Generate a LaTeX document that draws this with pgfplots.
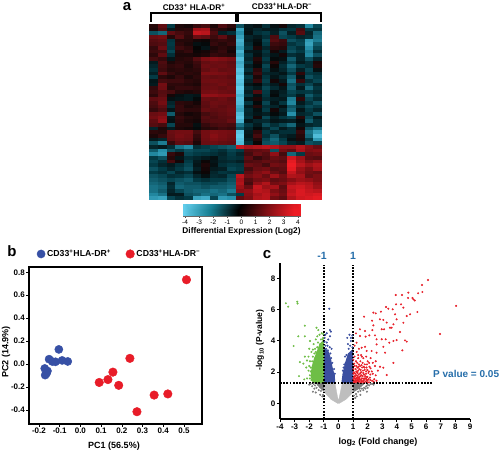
\documentclass[border=0pt]{standalone}
\usepackage{fontspec}
\setmainfont{Liberation Sans}
\usepackage{pgfplots}
\usepackage{pgfplotstable}
\pgfplotsset{compat=1.18}
\definecolor{vblue}{RGB}{59,79,160}
\definecolor{vgreen}{RGB}{110,190,70}
\definecolor{vred}{RGB}{232,32,42}
\definecolor{lgray}{RGB}{190,190,190}
\definecolor{dgray}{RGB}{125,125,125}
\definecolor{sblue}{RGB}{38,110,170}
\definecolor{pblue}{RGB}{55,80,165}
\definecolor{pred}{RGB}{232,28,40}
\pgfplotsset{colormap={hm}{rgb255(0cm)=(98,205,235);rgb255(2cm)=(22,125,145);rgb255(4cm)=(0,0,0);rgb255(6cm)=(125,15,20);rgb255(8cm)=(238,28,36)}}
\pgfplotsset{colormap={hmcells}{rgb255(0cm)=(98,205,235);rgb255(1.5cm)=(35,140,165);rgb255(3cm)=(3,58,68);rgb255(4cm)=(5,5,5);rgb255(5cm)=(85,12,16);rgb255(6cm)=(135,14,20);rgb255(8cm)=(238,28,36)}}
\pgfdeclareplotmark{hcell}{\pgfpathrectangle{\pgfpoint{-4.4pt}{-1.95pt}}{\pgfpoint{8.8pt}{3.9pt}}\pgfusepathqfill}
% heat map, values in tenths of log2, rows from the top
\pgfplotstableread{
c0 c1 c2 c3 c4 c5 c6 c7 c8 c9 c10 c11 c12 c13 c14 c15 c16 c17 c18 c19
4 12 -10 3 2 6 8 3 9 5 -14 -4 -2 -8 -2 2 -6 -8 -24 -12
3 9 -4 4 5 24 26 6 4 2 -30 -3 -6 -4 -4 -8 -9 8 -10 -9
-14 -18 12 8 6 32 30 9 -5 -8 -26 -2 -8 -10 -5 -14 -5 10 -6 -18
14 16 4 10 5 14 12 7 12 5 -30 -6 -4 -8 9 -12 -10 -6 -8 -20
10 12 -9 4 4 2 1 5 6 5 -34 -5 -2 -12 10 7 -14 -11 -28 -22
9 10 -10 5 3 -2 -1 6 4 6 -32 -7 -1 -10 7 6 -9 -12 -30 -16
6 14 -9 7 5 0 -3 3 5 3 -28 -9 3 -6 5 4 -12 -8 -26 -12
7 8 -12 4 6 1 2 4 6 2 -34 -4 -3 -9 2 -4 -14 -10 -22 -8
5 12 -8 3 3 2 3 6 5 4 -30 -8 -2 -7 -3 2 -8 -6 -24 -14
8 6 -3 4 5 10 18 20 18 16 -36 -6 4 -10 -1 -2 -16 -6 -14 -6
-4 9 3 5 4 7 13 15 14 12 -32 -9 2 -7 4 -5 -12 -4 -8 3
-6 8 5 6 3 6 15 14 15 13 -34 -5 -1 -12 1 -8 -18 -10 -8 4
-8 7 4 5 4 5 13 16 13 14 -38 -8 5 -9 -2 -6 -14 -5 -12 -2
-5 12 6 4 5 4 18 18 17 15 -36 -4 7 -6 -5 -3 -10 5 -10 -8
-10 5 3 6 3 5 14 13 14 12 -40 -9 3 -9 -3 -7 -16 -2 -14 -10
-3 8 7 7 5 4 15 16 15 14 -38 -6 6 -11 2 -4 -20 6 -8 -12
-4 16 5 5 4 3 13 14 16 13 -36 -3 -1 -8 -4 2 -14 -8 -12 -6
6 15 4 6 6 5 14 15 13 15 -40 -7 -4 -12 -7 -3 -16 -4 -18 -9
7 10 8 4 3 4 16 17 15 14 -38 -5 9 -10 -2 -5 -12 -9 -10 -7
5 11 2 -2 -4 -3 22 22 20 20 -34 -8 -2 -9 -1 -6 -10 -4 -16 -10
12 14 -2 -3 -4 -1 14 13 15 12 -37 -3 3 -7 -5 -4 -22 5 -12 -7
9 16 -6 5 4 2 12 15 14 13 -36 -9 -1 -12 -3 -9 -24 -4 -9 -14
8 12 -8 6 3 4 11 14 12 14 -32 -4 4 -8 -6 -2 -15 -8 -13 -10
6 9 -3 6 5 5 13 12 13 15 -30 -7 -2 -10 2 -6 -18 -3 -10 -6
14 16 -16 4 2 3 8 10 12 14 -36 -6 -3 -5 -1 -4 -26 -6 -8 -14
16 20 -3 6 4 3 10 9 11 12 -38 -8 2 -12 -5 -9 -12 4 -12 -4
12 22 -2 5 3 2 9 10 10 14 -34 -3 -6 -7 -3 -4 -5 -1 -16 -8
10 8 -12 4 4 -2 6 8 9 8 -20 -9 -4 -13 -8 -12 -18 -3 -6 -8
-6 3 -4 3 2 -1 4 5 7 6 -14 -6 -1 -6 -12 -4 -8 2 -14 -20
5 4 14 16 16 8 16 18 17 16 -38 -4 5 -10 -6 -8 -8 6 -20 -30
3 6 13 17 15 6 16 20 17 15 -40 -3 8 -8 -14 -6 -4 4 -18 -36
-4 -6 12 15 14 5 15 18 16 14 -38 -5 4 -12 -18 -10 -2 3 -10 -28
-14 -22 6 12 10 3 14 15 13 12 -36 -8 1 -14 -16 -12 -6 -4 -14 -12
-6 -4 -8 -20 -24 -8 -10 -12 -14 -16 32 26 28 30 28 22 22 28 20 14
-16 -26 -14 -10 -14 -12 -12 -10 -8 -12 -10 10 12 14 -14 16 12 26 18 20
-24 -28 6 3 -12 -10 -9 -8 -6 -10 -6 8 14 10 22 8 -18 -10 14 16
-10 -14 4 -3 -8 -6 -4 -2 -7 -9 -8 12 6 9 14 12 34 24 12 10
-12 -8 8 2 -10 -4 1 -3 -6 -7 -5 9 10 13 12 10 38 26 18 22
-10 -6 -4 -8 -12 -3 3 -2 -8 -10 -9 14 12 8 16 14 40 30 24 28
-14 -10 -6 -10 -14 -5 2 -4 -5 -12 -10 8 14 16 10 12 38 24 18 26
-10 -8 -12 -6 -8 -2 1 -6 -9 -8 -8 12 18 22 14 10 32 22 16 14
-14 -12 -8 -9 -12 -6 -2 -7 -6 -12 30 16 20 14 24 16 28 26 14 18
-16 -14 -12 -14 -16 -10 -8 -10 -10 -14 26 10 16 18 12 14 20 24 22 18
-18 -16 -6 -16 -14 -14 -12 -12 -14 -16 28 8 22 28 16 18 26 30 28 22
-20 -18 -8 -18 -16 -16 -14 -16 -16 -18 24 14 32 24 26 12 32 34 30 24
-20 -16 -6 -12 -16 -18 -18 -20 -18 -22 20 22 30 28 18 14 30 36 32 30
-24 -20 -4 -4 -14 -16 -20 -18 -20 -14 -10 20 26 30 22 16 32 36 34 36
-28 -30 -12 -8 -10 -30 -32 -12 -28 -26 12 18 28 30 16 12 28 34 36 38
}\heat
\begin{document}
\begin{tikzpicture}[x=1pt,y=1pt]
\path[use as bounding box,fill=white] (0,0) rectangle (500,452);
% ---------- panel a
\begin{axis}[at={(149.5pt,252pt)},anchor=south west,scale only axis,width=172.5pt,height=176pt,
  hide axis,xmin=-0.5,xmax=19.5,ymin=-47.5,ymax=0.5,colormap name=hmcells,point meta min=-40,point meta max=40]
\pgfplotsinvokeforeach{0,...,19}{
  \addplot[scatter,only marks,mark=hcell,point meta=explicit,scatter/use mapped color={draw=none,fill=mapped color}]
    table[x expr=#1,y expr=-\coordindex,meta index=#1]{\heat};
}
\end{axis}
\begin{axis}[at={(183pt,236pt)},anchor=south west,scale only axis,width=117pt,height=11pt,
  xmin=-4.15,xmax=4.15,ymin=0,ymax=1,ytick=\empty,xtick={-4,-3,-2,-1,0,1,2,3,4},
  colormap name=hm,point meta min=-4,point meta max=4,
  axis line style={draw=black!60,line width=0.6pt},xtick pos=bottom,tick align=outside,
  major tick length=2pt,tick style={draw=black!70,line width=0.4pt},
  xticklabel style={font=\fontsize{6.5}{7}\selectfont,inner sep=1pt,yshift=-0.5pt},
  /pgf/number format/assume math mode=true]
\addplot[matrix plot*,shader=interp,mesh/cols=19,point meta=x] coordinates {
(-4.15,0)(-4,0)(-3.5,0)(-3,0)(-2.5,0)(-2,0)(-1.5,0)(-1,0)(-0.5,0)(0,0)(0.5,0)(1,0)(1.5,0)(2,0)(2.5,0)(3,0)(3.5,0)(4,0)(4.15,0)
(-4.15,1)(-4,1)(-3.5,1)(-3,1)(-2.5,1)(-2,1)(-1.5,1)(-1,1)(-0.5,1)(0,1)(0.5,1)(1,1)(1.5,1)(2,1)(2.5,1)(3,1)(3.5,1)(4,1)(4.15,1)};
\end{axis}
\draw[line width=1.2pt] (151,430) -- (151,439) -- (236,439) -- (236,430);
\draw[line width=1.2pt] (238,430) -- (238,439) -- (321,439) -- (321,430);
\node[font=\bfseries\fontsize{8.2}{9}\selectfont] at (194,444.5) {CD33\textsuperscript{+} HLA-DR\textsuperscript{+}};
\node[font=\bfseries\fontsize{8.2}{9}\selectfont] at (282,445.5) {CD33\textsuperscript{+}HLA-DR\textsuperscript{−}};
\node[font=\bfseries\fontsize{15}{16}\selectfont] at (127,445) {a};
\node[font=\bfseries\fontsize{8.3}{9}\selectfont] at (241.5,221) {Differential Expression (Log2)};
% ---------- panel b
\begin{axis}[at={(29pt,28pt)},anchor=south west,scale only axis,width=173pt,height=157pt,
  xmin=-0.248,xmax=0.587,ymin=-0.522,ymax=0.846,
  xtick={-0.2,-0.1,0,0.1,0.2,0.3,0.4,0.5},ytick={-0.4,-0.2,0,0.2,0.4,0.6,0.8},
  /pgf/number format/assume math mode=true,/pgf/number format/fixed,/pgf/number format/fixed zerofill,/pgf/number format/precision=1,
  axis line style={line width=1.4pt},tick align=outside,major tick length=2.5pt,tick style={black,line width=0.6pt},
  xtick pos=bottom,ytick pos=left,
  tick label style={font=\bfseries\fontsize{8}{9}\selectfont,inner sep=1.5pt},
  legend style={draw=none,fill=none,at={(0.045,1.083)},anchor=west,legend columns=2,inner sep=0pt,
    font=\bfseries\fontsize{8.7}{10}\selectfont,/tikz/every even column/.append style={column sep=13pt}},
  legend cell align=left]
\addplot[only marks,mark=*,mark size=4.1pt,color=pblue,mark options={draw=pblue,fill=pblue}] coordinates {
(-0.104,0.128)(-0.151,0.043)(-0.12,0.02)(-0.135,0.022)(-0.088,0.032)(-0.061,0.023)(-0.172,-0.038)(-0.159,-0.06)(-0.17,-0.096)(-0.163,-0.08)};
\addlegendentry{CD33\textsuperscript{+}HLA-DR\textsuperscript{+}}
\addplot[only marks,mark=*,mark size=4.3pt,color=pred,mark options={draw=pred,fill=pred}] coordinates {
(0.512,0.735)(0.239,0.05)(0.157,-0.07)(0.133,-0.135)(0.091,-0.16)(0.185,-0.185)(0.356,-0.27)(0.422,-0.26)(0.273,-0.415)};
\addlegendentry{CD33\textsuperscript{+}HLA-DR\textsuperscript{−}}
\end{axis}
\node[font=\bfseries\fontsize{9}{10}\selectfont] at (114,6) {PC1 (56.5\%)};
\node[font=\bfseries\fontsize{9}{10}\selectfont,rotate=90] at (6,100) {PC2 (14.9\%)};
\node[font=\bfseries\fontsize{15}{16}\selectfont] at (12,201) {b};
% ---------- panel c
\begin{axis}[at={(280pt,33pt)},anchor=south west,scale only axis,width=190pt,height=156pt,
  xmin=-4,xmax=9,ymin=-1,ymax=9,clip=false,axis x line*=bottom,axis y line*=left,
  xtick={-4,-3,-2,-1,0,1,2,3,4,5,6,7,8,9},ytick={0,2,4,6,8},
  axis line style={line width=1.3pt,-},tick align=outside,major tick length=3pt,tick style={black,line width=1pt},
  tick label style={font=\bfseries\fontsize{8}{9}\selectfont,inner sep=1.5pt},
  /pgf/number format/assume math mode=true]
% light gray cloud (dense body of the plot)
\addplot[fill=lgray,draw=lgray,line width=0.3pt] coordinates {(-0.05,0)(-0.5,0.25)(-1,0.75)(-1,1.3)(-0.24,1.3)(-0.08,0.5)(0,0.15)(0.08,0.5)(0.26,1.3)(1,1.3)(1,0.7)(0.5,0.25)(0.05,0)} --cycle;
% dark gray dense parts and scattered points
\addplot[fill=dgray,draw=none] coordinates {(-1,0.75)(-1,1.3)(-1.55,1.3)(-1.3,1)} --cycle;
\addplot[fill=dgray,draw=none] coordinates {(1,0.7)(1,1.3)(1.85,1.3)(1.35,0.9)} --cycle;
\addplot[only marks,mark=*,mark size=0.8pt,color=dgray] coordinates {
(-1.05,0.55)(-1.2,0.8)(-1.35,0.85)(-1.5,1.0)(-1.6,1.15)(-1.7,1.25)(-1.8,1.1)(-1.4,1.2)(-1.9,1.25)(-1.65,0.95)(-1.75,0.75)(-1.55,0.7)(-1.25,0.55)(-2.0,1.2)(-1.1,0.45)
(1.05,0.5)(1.2,0.6)(1.35,0.75)(1.5,0.8)(1.6,0.95)(1.75,1.0)(1.9,1.1)(2.0,1.2)(2.1,1.15)(2.2,1.25)(1.45,0.95)(1.7,0.85)(1.85,0.95)(2.0,1.0)(2.3,1.25)(2.4,1.2)(1.25,0.45)(1.5,0.55)(1.95,0.75)(1.15,0.35)};
% blue
\addplot[fill=vblue,draw=none] coordinates {(-1,1.3)(-0.22,1.3)(-0.25,1.8)(-0.4,2.3)(-0.5,2.8)(-0.65,3.3)(-1,3.6)} --cycle;
\addplot[fill=vblue,draw=none] coordinates {(0.2,1.3)(1,1.3)(1,3.5)(0.65,3.2)(0.45,2.6)(0.28,1.9)} --cycle;
\addplot[only marks,mark=*,mark size=0.8pt,color=vblue] coordinates {
(-0.63,6.07)(-0.58,4.7)(-0.52,4.6)(-0.58,4.3)(-0.8,4.5)(-0.9,4.4)(-0.95,4.2)(-0.8,3.9)(-0.7,4.1)(-0.47,3.5)(-0.6,3.6)(-0.55,3.2)(-0.65,3.0)(-0.5,2.9)(-0.42,2.6)(-0.72,3.4)(-0.9,3.7)(-0.85,3.5)(-0.3,2.2)(-0.25,1.9)(-0.95,3.95)(-0.75,3.7)
(0.95,4.35)(0.75,4.4)(0.85,4.0)(0.6,4.2)(0.7,3.5)(0.45,3.0)(0.55,3.1)(0.9,3.3)(0.8,3.7)(0.65,3.0)(0.95,3.6)(0.75,3.1)(0.4,2.5)(0.5,2.6)(0.3,2.1)(0.9,3.05)(0.6,2.75)(0.85,4.2)(0.65,3.8)(0.35,2.3)};
% green
\addplot[fill=vgreen,draw=none] coordinates {(-1,1.3)(-1.75,1.3)(-1.9,1.7)(-1.85,2.3)(-1.7,2.8)(-1.5,3.3)(-1.3,3.8)(-1,4.1)} --cycle;
\addplot[only marks,mark=*,mark size=0.8pt,color=vgreen] coordinates {
(-3.6,6.42)(-3.44,6.2)(-2.82,6.52)(-2.8,6.4)(-1.5,4.85)(-1.38,4.7)(-1.05,4.45)(-1.15,4.5)(-1.3,4.4)(-1.45,4.3)(-1.55,4.1)(-1.7,3.8)(-1.95,4.0)(-2.3,4.3)(-2.75,4.3)(-3.07,3.68)(-2.64,2.65)(-2.7,1.75)(-2.34,1.54)(-1.95,1.6)
(-1.85,1.5)(-1.95,1.8)(-2.05,2.1)(-2.15,1.6)(-1.9,2.3)(-1.95,2.7)(-2.15,2.75)(-2.3,3.0)(-1.75,3.0)(-1.85,3.3)(-2.0,3.5)(-1.6,3.5)(-1.4,3.9)(-1.25,3.8)(-1.2,4.1)(-1.1,4.1)(-1.65,3.2)(-1.55,3.3)(-1.45,3.6)(-1.35,3.5)(-2.0,2.4)(-2.2,2.3)(-1.8,2.7)(-2.05,3.0)(-1.6,2.9)(-1.5,3.2)(-1.9,2.05)(-2.4,2.55)(-1.75,3.45)(-1.05,4.2)(-1.25,3.55)(-2.3,4.98)};
% red
\addplot[only marks,mark=*,mark size=0.8pt,color=vred] coordinates {
(6.13,7.91)(5.72,7.59)(5.74,7.14)(5.45,7.06)(4.78,7.10)(4.35,6.95)(3.92,6.95)(4.76,6.76)(5.06,6.76)(5.22,6.6)(5.13,6.67)(8.05,6.25)(6.95,4.45)(4.28,6.35)(3.94,6.35)(3.25,6.18)(3.41,6.07)(3.71,6.03)(4.44,6.14)(4.9,5.71)(5.4,5.86)(4.67,5.6)(3.87,5.71)(3.98,5.39)(4.44,5.17)(2.84,5.39)(3.07,5.35)(2.39,5.82)(2.55,5.77)(2.91,5.88)(1.75,5.56)(2.3,5.3)(3.3,5.18)(3.76,5.07)(3.53,4.85)(2.39,5.0)(2.32,4.7)(2.96,4.75)(3.12,4.75)(3.64,4.85)(4.21,4.58)(1.47,4.75)(1.82,4.64)(1.2,4.49)(1.47,4.32)(1.86,4.28)(2.11,4.36)(2.5,4.36)(2.61,4.11)(2.96,4.11)(3.23,4.11)(3.48,3.89)(3.76,4.0)(3.98,4.06)(4.55,4.04)(4.67,3.96)(1.24,3.89)(1.59,3.57)(1.82,3.63)(1.93,3.36)(2.27,3.36)(2.61,3.25)(3.07,3.63)(3.19,3.25)(2.61,3.78)(4.37,3.4)(3.76,2.6)(3.3,1.82)(2.84,2.35)(3.07,2.29)
(1.05,1.4)(1.12,1.6)(1.2,1.35)(1.25,1.8)(1.3,1.5)(1.35,2.1)(1.4,1.4)(1.45,1.7)(1.5,1.95)(1.55,1.35)(1.6,1.6)(1.62,2.3)(1.7,1.45)(1.75,1.85)(1.8,2.15)(1.85,1.4)(1.9,1.7)(1.95,2.5)(2.0,1.5)(2.05,1.95)(2.1,1.35)(2.15,1.65)(2.2,2.25)(2.3,1.45)(2.35,1.9)(2.45,1.55)(2.5,2.4)(1.05,2.0)(1.1,2.4)(1.15,1.9)(1.2,2.7)(1.3,2.3)(1.35,2.9)(1.4,2.5)(1.5,2.7)(1.55,3.1)(1.65,2.6)(1.7,2.9)(1.8,2.5)(1.9,3.0)(2.0,2.7)(2.1,2.6)(2.2,2.9)(2.35,2.6)(2.55,2.7)(2.7,2.1)(1.1,3.0)(1.25,3.3)(1.1,3.7)(1.4,3.5)(1.35,3.1)(1.6,3.0)
(1.08,1.75)(1.18,1.5)(1.28,1.65)(1.38,1.85)(1.48,1.5)(1.58,1.8)(1.68,2.1)(1.78,1.6)(1.88,1.9)(1.98,1.7)(2.08,2.05)(2.18,1.5)(1.22,2.05)(1.42,2.2)(1.52,2.15)(1.72,2.35)(1.92,2.3)(2.12,2.35)(1.03,1.55)(1.15,1.75)(1.25,1.45)(1.35,1.65)(1.45,1.4)(1.55,1.55)(1.65,1.75)(1.75,1.5)(1.85,1.6)(1.95,1.45)(2.05,1.55)(1.1,1.95)(1.3,1.95)(1.5,1.75)(1.7,1.95)(1.9,2.05)(1.03,2.2)(1.06,1.35)(1.15,1.4)(1.35,1.4)(1.55,2.0)(2.4,1.4)(2.6,1.45)(2.55,1.8)
(1.02,1.9)(1.18,2.2)(1.28,2.0)(1.42,1.6)(1.62,1.4)(1.82,1.75)(1.32,1.75)(1.12,1.45)(1.68,1.6)(1.48,1.9)(1.38,2.35)(1.58,2.45)(1.78,2.3)(1.98,2.15)(2.18,1.85)(2.28,2.05)(1.22,2.4)(1.08,2.55)(1.02,2.8)(1.28,2.6)(1.48,2.4)(1.15,1.6)(1.72,1.35)(1.92,1.55)(2.02,1.35)(1.38,1.5)(1.58,1.45)(1.05,1.65)(1.25,1.6)(1.45,1.55)};
% thresholds
\addplot[black,line width=1.7pt,dash pattern=on 1.7pt off 1.5pt] coordinates {(-1,-1)(-1,8.9)};
\addplot[black,line width=1.7pt,dash pattern=on 1.7pt off 1.5pt] coordinates {(1,-1)(1,8.9)};
\addplot[black,line width=1.7pt,dash pattern=on 1.7pt off 1.5pt] coordinates {(-4,1.3)(6.38,1.3)};
\end{axis}
\node[font=\bfseries\fontsize{15}{16}\selectfont] at (267,197) {c};
\node[font=\bfseries\fontsize{10.5}{11}\selectfont,text=sblue] at (322,196) {-1};
\node[font=\bfseries\fontsize{10.5}{11}\selectfont,text=sblue] at (353,196) {1};
\node[font=\bfseries\fontsize{10}{11}\selectfont,text=sblue,anchor=west,inner sep=0pt] at (433,78) {P value = 0.05};
\node[font=\bfseries\fontsize{9}{10}\selectfont] at (378,10) {log\textsubscript{2} (Fold change)};
\node[font=\bfseries\fontsize{8.5}{10}\selectfont,rotate=90] at (260,112) {-log\textsubscript{10} (P-value)};
\end{tikzpicture}
\end{document}
